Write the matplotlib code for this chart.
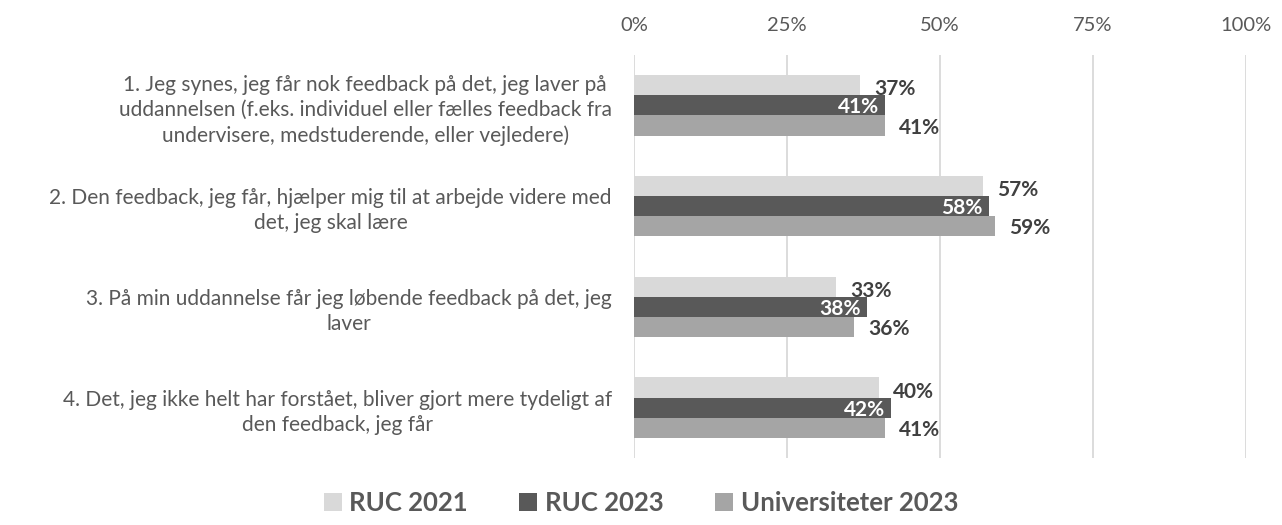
import numpy as np
import matplotlib.pyplot as plt

plt.rcParams['font.family'] = ['Lato', 'DejaVu Sans']

# data
questions = [
    "1. Jeg synes, jeg får nok feedback på det, jeg laver på\nuddannelsen (f.eks. individuel eller fælles feedback fra\nundervisere, medstuderende, eller vejledere)",
    "2. Den feedback, jeg får, hjælper mig til at arbejde videre med\ndet, jeg skal lære",
    "3. På min uddannelse får jeg løbende feedback på det, jeg\nlaver",
    "4. Det, jeg ikke helt har forstået, bliver gjort mere tydeligt af\nden feedback, jeg får",
]
series_names = ["RUC 2021", "RUC 2023", "Universiteter 2023"]
ruc_2021 = [37, 57, 33, 40]
ruc_2023 = [41, 58, 38, 42]
uni_2023 = [41, 59, 36, 41]
xticks = [0, 25, 50, 75, 100]

colors = ['#D9D9D9', '#595959', '#A5A5A5']
text_col = '#595959'
label_col = '#404040'

fig = plt.figure(figsize=(12.82, 5.25), dpi=100)
ax = fig.add_axes([634 / 1282, 67 / 525, 612 / 1282, 403 / 525])

y = np.arange(len(questions))
h = 0.2
vals = [ruc_2021, ruc_2023, uni_2023]
offsets = [-h, 0, h]
for i, (v, c, off) in enumerate(zip(vals, colors, offsets)):
    bars = ax.barh(y + off, v, height=h, color=c, label=series_names[i], zorder=3)
    for b, val in zip(bars, v):
        yc = b.get_y() + b.get_height() / 2
        if i == 1:
            ax.text(val - 1.0, yc + 0.02, f"{val}%", ha='right', va='center',
                    color='white', fontsize=15, fontweight='bold', zorder=4)
        elif i == 0:
            ax.text(val + 2.3, yc + 0.04, f"{val}%", ha='left', va='center',
                    color=label_col, fontsize=15, fontweight='bold', zorder=4)
        else:
            ax.text(val + 2.3, yc + 0.02, f"{val}%", ha='left', va='center',
                    color=label_col, fontsize=15, fontweight='bold', zorder=4)

ax.set_xlim(0, 100)
ax.set_ylim(len(questions) - 0.5, -0.5)
ax.set_xticks(xticks)
ax.set_xticklabels([f"{t}%" for t in xticks])
ax.xaxis.tick_top()
ax.tick_params(axis='x', length=0, pad=15, labelsize=14.5, labelcolor=text_col)
ax.set_yticks(y)
ax.set_yticklabels(questions, ha='right', multialignment='center', fontsize=15,
                   color=text_col, linespacing=1.32)
ax.tick_params(axis='y', length=0, pad=16)
ax.grid(axis='x', color='#D9D9D9', linewidth=1.3, zorder=0)
for s in ax.spines.values():
    s.set_visible(False)

leg = fig.legend(loc='lower center', bbox_to_anchor=(0.5, -0.025), ncol=3, frameon=False,
                 handlelength=0.7, handleheight=0.7, handletextpad=0.3, columnspacing=2.0,
                 prop={'size': 18.5, 'weight': 'bold'})
for t in leg.get_texts():
    t.set_color(text_col)

plt.savefig('out.png', dpi=100)
